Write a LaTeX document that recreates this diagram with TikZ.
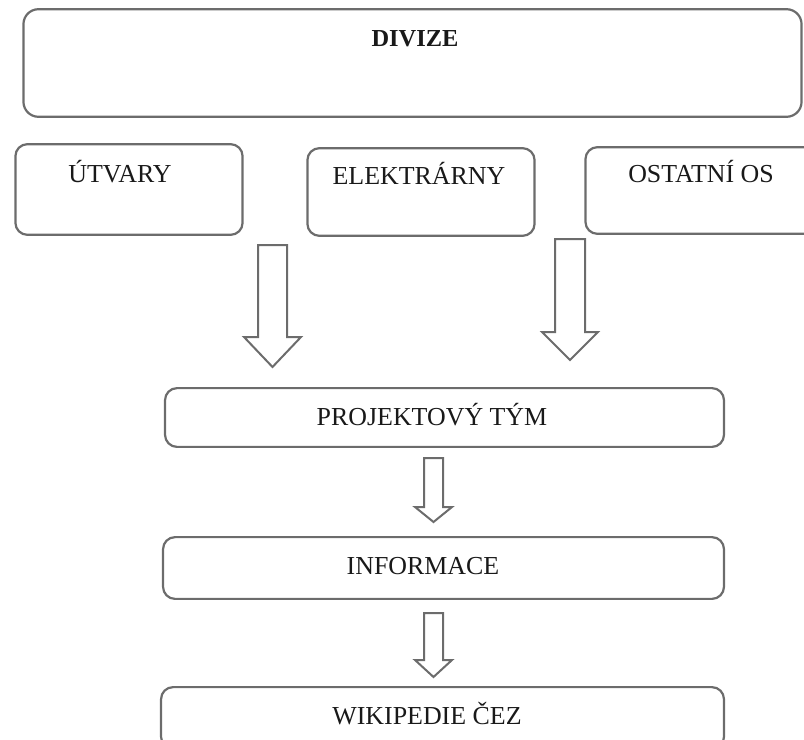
\documentclass[tikz,border=0pt]{standalone}
\usepackage{fontspec}
\setmainfont{Liberation Serif}
\usetikzlibrary{calc}
\definecolor{edge}{RGB}{108,108,108}
\definecolor{ink}{RGB}{25,25,25}

\newcommand{\hollowarrow}[5]{%
\draw[arrowline] let \p1=(#1), \p2=(#2) in
  (\x1-#3bp,\y1) -- (\x1+#3bp,\y1) -- (\x1+#3bp,\y2+#5bp) -- (\x1+#4bp,\y2+#5bp)
  -- (\x2,\y2) -- (\x1-#4bp,\y2+#5bp) -- (\x1-#3bp,\y2+#5bp) -- cycle;}

\begin{document}
\begin{tikzpicture}[x=1bp, y=-1bp,
  box/.style={draw=edge, line width=2.2bp, rounded corners=12bp, inner sep=0pt, outer sep=0pt},
  lbl/.style={anchor=base, text=ink, font=\fontsize{26}{30}\selectfont},
  arrowline/.style={draw=edge, line width=2bp, fill=white, line join=miter}]
\path[use as bounding box, clip] (0,0) rectangle (804,740);

\node[box, minimum width=781, minimum height=108, rounded corners=15bp] (divize) at (412.5,63) {};
\node[box, minimum width=228, minimum height=91] (utvary) at (129,189.5) {};
\node[box, minimum width=228, minimum height=88] (elektrarny) at (421,192) {};
\node[box, minimum width=240, minimum height=87] (ostatni) at (705,190.5) {};
\node[box, minimum width=561, minimum height=59] (projekt) at (444.5,417.5) {};
\node[box, minimum width=563, minimum height=62] (informace) at (443.5,568) {};
\node[box, minimum width=565, minimum height=62] (wiki) at (442.5,718) {};

\node[lbl, font=\fontsize{24.5}{29}\selectfont\bfseries] (divizeT) at (415,47) {DIVIZE};
\node[lbl] (utvaryT) at (120,182) {ÚTVARY};
\node[lbl] (elektrarnyT) at (419,184) {ELEKTRÁRNY};
\node[lbl] (ostatniT) at (701,182) {OSTATNÍ OS};
\node[lbl] (projektT) at (432,425) {PROJEKTOVÝ TÝM};
\node[lbl] (informaceT) at (423,574) {INFORMACE};
\node[lbl] (wikiT) at (427,724) {WIKIPEDIE ČEZ};

\coordinate (aL) at (272.5,245);
\coordinate (aLtip) at (272.5,367);
\coordinate (aR) at (570,239);
\coordinate (aRtip) at (570,360);
\coordinate (a1) at (433.5,458);
\coordinate (a1tip) at (433.5,522);
\coordinate (a2) at (433.5,613);
\coordinate (a2tip) at (433.5,677);

\hollowarrow{aL}{aLtip}{14.5}{28.5}{30}
\hollowarrow{aR}{aRtip}{15}{28}{28}
\hollowarrow{a1}{a1tip}{9.5}{18.5}{15}
\hollowarrow{a2}{a2tip}{9.5}{18.5}{17}
\end{tikzpicture}
\end{document}
